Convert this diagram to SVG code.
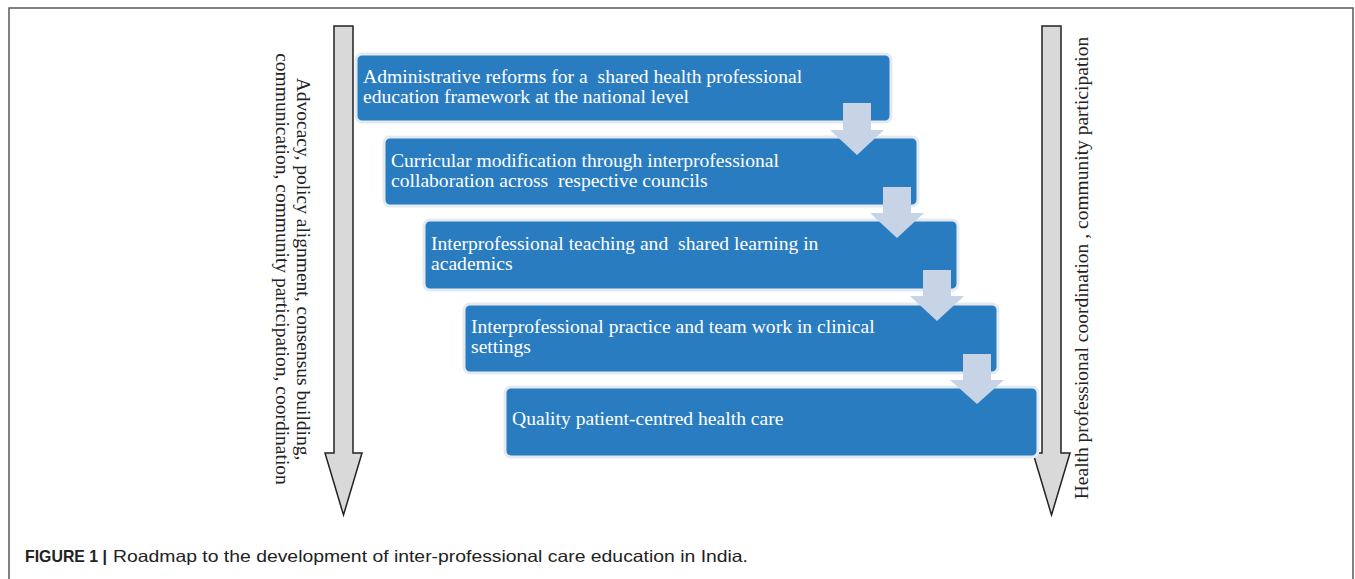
<svg xmlns="http://www.w3.org/2000/svg" width="1355" height="579" viewBox="0 0 1355 579">
<style>
.frame{fill:none;stroke:#5a5a5a;stroke-width:1.5}
.big{fill:#d9d9d9;stroke:#222;stroke-width:1.5;stroke-linejoin:miter}
.box{fill:#2a7cc0;stroke:#e4eaf1;stroke-width:3}
.step{fill:#c7d4e5}
.bt{font-family:"Liberation Serif","Times New Roman",serif;font-size:19.6px;fill:#ffffff;white-space:pre}
.side{font-family:"Liberation Serif","Times New Roman",serif;font-size:19.5px;fill:#222}
.cap{font-family:"Liberation Sans",Arial,sans-serif;font-size:16.5px;fill:#222}
</style>
<rect width="1355" height="579" fill="#ffffff"/>
<path class="frame" d="M9,579 V8 H1353 V579"/>
<g id="side-left">
<polygon class="big" points="334,26 353,26 353,453 362,453 343.5,515 325,453 334,453"/>
<text class="side" transform="translate(297,269) rotate(90)" text-anchor="middle">Advocacy, policy alignment, consensus building,</text>
<text class="side" transform="translate(276,269) rotate(90)" text-anchor="middle">communication, community participation, coordination</text>
</g>
<g id="side-right">
<polygon class="big" points="1042,26 1061,26 1061,453 1070,453 1051.5,515 1033,453 1042,453"/>
<text class="side" transform="translate(1088,268) rotate(-90)" text-anchor="middle">Health professional coordination , community participation</text>
</g>
<g id="node1">
<rect class="box" x="356" y="54" width="535" height="68" rx="6"/>
<text class="bt" x="363" y="83">Administrative reforms for a  shared health professional</text>
<text class="bt" x="363" y="103">education framework at the national level</text>
</g>
<g id="node2">
<rect class="box" x="384" y="137" width="534" height="69" rx="6"/>
<text class="bt" x="391" y="167">Curricular modification through interprofessional</text>
<text class="bt" x="391" y="187">collaboration across  respective councils</text>
</g>
<g id="node3">
<rect class="box" x="424" y="220" width="534" height="70" rx="6"/>
<text class="bt" x="431" y="250">Interprofessional teaching and  shared learning in</text>
<text class="bt" x="431" y="270">academics</text>
</g>
<g id="node4">
<rect class="box" x="464" y="304" width="534" height="69" rx="6"/>
<text class="bt" x="471" y="333">Interprofessional practice and team work in clinical</text>
<text class="bt" x="471" y="353">settings</text>
</g>
<g id="node5">
<rect class="box" x="505" y="387" width="533" height="70" rx="6"/>
<text class="bt" x="512" y="425">Quality patient-centred health care</text>
</g>
<g id="connectors">
<polygon class="step" points="843,103 871,103 871,130 884,130 857,155 830,130 843,130"/>
<polygon class="step" points="883,187 911,187 911,213 924,213 897,238 870,213 883,213"/>
<polygon class="step" points="923,270 951,270 951,296 964,296 937,321 910,296 923,296"/>
<polygon class="step" points="963,354 991,354 991,380 1004,380 977,404 950,380 963,380"/>
</g>
<text class="cap" x="25" y="562" font-weight="bold" textLength="82" lengthAdjust="spacingAndGlyphs">FIGURE 1 |</text>
<text class="cap" x="113" y="562" textLength="635" lengthAdjust="spacingAndGlyphs">Roadmap to the development of inter-professional care education in India.</text>
</svg>
